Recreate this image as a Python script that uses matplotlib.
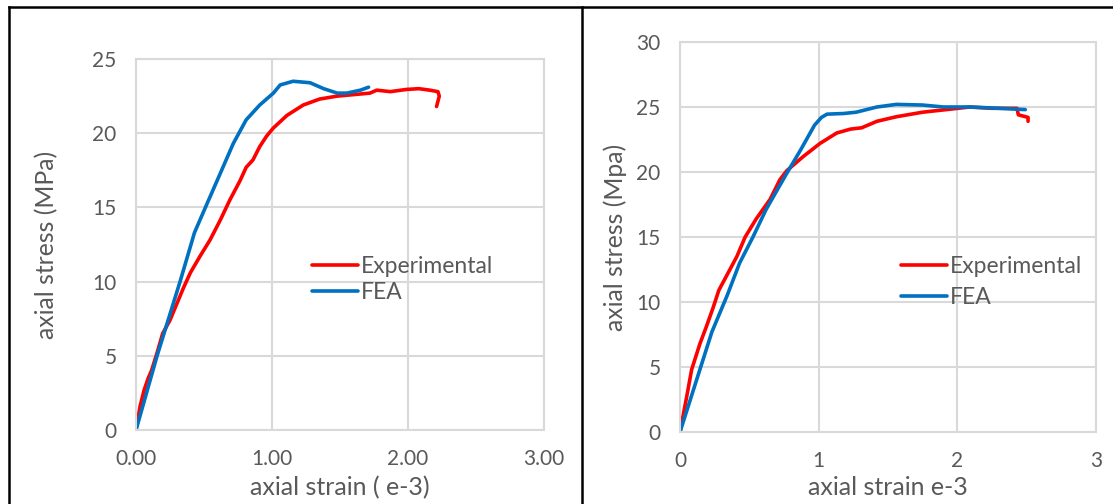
import matplotlib
matplotlib.use("Agg")
import matplotlib.pyplot as plt
from matplotlib.lines import Line2D

# left test: stress-strain, strain in e-3, stress in MPa
left_exp_strain = [0.00, 0.03, 0.06, 0.09, 0.114, 0.155, 0.196, 0.25, 0.30, 0.35, 0.40, 0.47,
                   0.544, 0.62, 0.69, 0.765, 0.81, 0.86, 0.91, 0.96, 1.01, 1.11, 1.23, 1.35,
                   1.48, 1.72, 1.77, 1.87, 1.99, 2.08, 2.16, 2.22, 2.23, 2.21]
left_exp_stress = [0.0, 1.6, 2.7, 3.5, 4.0, 5.2, 6.5, 7.4, 8.5, 9.6, 10.6, 11.7,
                   12.8, 14.15, 15.5, 16.8, 17.7, 18.2, 19.1, 19.8, 20.35, 21.2, 21.9, 22.3,
                   22.5, 22.7, 22.9, 22.8, 22.95, 23.0, 22.9, 22.8, 22.5, 21.8]
left_fea_strain = [0.00, 0.155, 0.324, 0.43, 0.52, 0.62, 0.715, 0.81, 0.91, 1.01, 1.06, 1.155,
                   1.28, 1.38, 1.48, 1.55, 1.65, 1.71]
left_fea_stress = [0.0, 5.0, 10.0, 13.3, 15.2, 17.3, 19.3, 20.9, 21.9, 22.7, 23.25, 23.5,
                   23.4, 23.0, 22.7, 22.7, 22.9, 23.1]

# right test
right_exp_strain = [0.00, 0.048, 0.084, 0.144, 0.19, 0.24, 0.28, 0.35, 0.41, 0.47, 0.55, 0.65,
                    0.72, 0.77, 0.89, 1.01, 1.13, 1.23, 1.31, 1.42, 1.56, 1.75, 1.92, 2.09,
                    2.25, 2.43, 2.44, 2.51, 2.51]
right_exp_stress = [0.0, 2.7, 4.8, 6.8, 8.1, 9.6, 10.9, 12.3, 13.5, 15.0, 16.4, 17.9,
                    19.4, 20.1, 21.2, 22.2, 23.0, 23.3, 23.4, 23.9, 24.25, 24.6, 24.8, 25.0,
                    24.9, 24.9, 24.4, 24.2, 23.9]
right_fea_strain = [0.00, 0.23, 0.34, 0.43, 0.526, 0.62, 0.70, 0.77, 0.87, 0.97, 1.02, 1.06,
                    1.18, 1.27, 1.42, 1.56, 1.75, 1.90, 2.09, 2.30, 2.49]
right_fea_stress = [0.0, 7.7, 10.5, 13.0, 15.0, 17.1, 18.6, 19.9, 21.7, 23.6, 24.2, 24.45,
                    24.5, 24.6, 25.0, 25.2, 25.15, 25.0, 25.0, 24.9, 24.8]

RED = "#FF0000"
BLUE = "#0070C0"
GRID = "#D9D9D9"
TEXT = "#595959"

plt.rcParams["font.family"] = ["Lato", "DejaVu Sans"]

W, H = 1113, 504
fig = plt.figure(figsize=(W / 100, H / 100), dpi=100)


def px_axes(x0, x1, y_top, y_bot):
    return fig.add_axes([x0 / W, (H - y_bot) / H, (x1 - x0) / W, (y_bot - y_top) / H])


def style(ax, xticks, xlabels, ymax, xlabel, ylabel):
    ax.set_xlim(0, 3)
    ax.set_ylim(0, ymax)
    ax.set_xticks(xticks)
    ax.set_xticklabels(xlabels)
    ax.set_yticks(range(0, ymax + 1, 5))
    ax.grid(True, color=GRID, linewidth=1.5)
    ax.set_axisbelow(True)
    for s in ax.spines.values():
        s.set_color(GRID)
        s.set_linewidth(1.5)
    ax.tick_params(length=0, labelsize=15, colors=TEXT, pad=14)
    ax.set_xlabel(xlabel, fontsize=18, color=TEXT)
    ax.set_ylabel(ylabel, fontsize=17.8, color=TEXT)


def curves(ax, es, ey, fs, fy):
    ax.plot(es, ey, color=RED, lw=2.6, label="Experimental", solid_capstyle="round")
    ax.plot(fs, fy, color=BLUE, lw=2.6, label="FEA", solid_capstyle="round")


ax1 = px_axes(136, 544, 59, 430)
curves(ax1, left_exp_strain, left_exp_stress, left_fea_strain, left_fea_stress)
style(ax1, [0, 1, 2, 3], ["0.00", "1.00", "2.00", "3.00"], 25,
      "axial strain ( e-3)", "axial stress (MPa)")
ax1.xaxis.set_label_coords(0.5, -0.123)
ax1.yaxis.set_label_coords(-0.19, 0.5)
ax1.legend(loc="center left", bbox_to_anchor=(0.41, 0.405), frameon=False,
           fontsize=16.5, labelcolor=TEXT, handlelength=2.0, handletextpad=0.1,
           labelspacing=0.2, borderaxespad=0)

ax2 = px_axes(680, 1096, 42, 432)
curves(ax2, right_exp_strain, right_exp_stress, right_fea_strain, right_fea_stress)
style(ax2, [0, 1, 2, 3], ["0", "1", "2", "3"], 30,
      "axial strain e-3", "axial stress (Mpa)")
ax2.xaxis.set_label_coords(0.5, -0.112)
ax2.yaxis.set_label_coords(-0.128, 0.5)
ax2.legend(loc="center left", bbox_to_anchor=(0.51, 0.385), frameon=False,
           fontsize=16.5, labelcolor=TEXT, handlelength=2.0, handletextpad=0.1,
           labelspacing=0.45, borderaxespad=0)

# black frames round the two panels
for xs, ys in [([9, W], [7, 7]), ([9, 9], [7, H]), ([582, 582], [7, H])]:
    fig.add_artist(Line2D([x / W for x in xs], [1 - y / H for y in ys],
                          color="black", lw=1.8))

fig.savefig("out.png", dpi=100)
